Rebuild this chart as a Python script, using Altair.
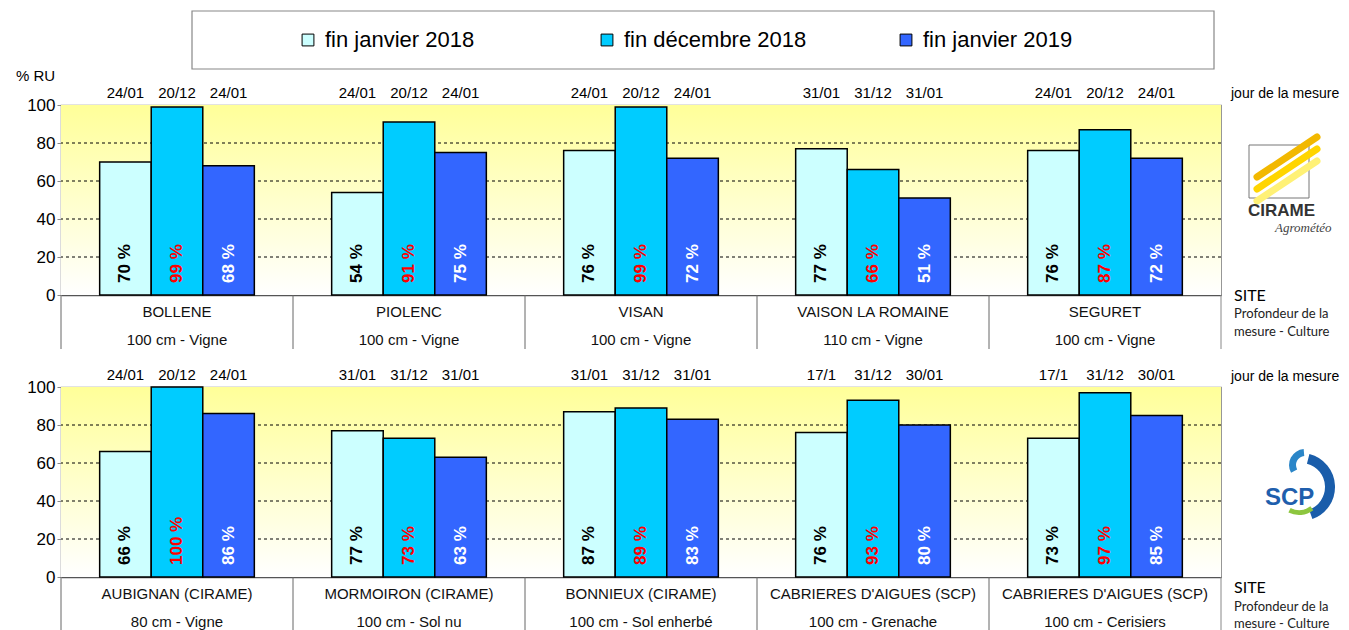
import altair as alt
import pandas as pd

# ---------------- data ----------------
series = ["fin janvier 2018", "fin décembre 2018", "fin janvier 2019"]
bar_colors = ["#CCFFFF", "#00CCFF", "#3366FF"]
label_colors = ["#000000", "#FF0000", "#FFFFFF"]

top_sites = ["BOLLENE", "PIOLENC", "VISAN", "VAISON LA ROMAINE", "SEGURET"]
top_depth = ["100 cm - Vigne", "100 cm - Vigne", "100 cm - Vigne", "110 cm - Vigne", "100 cm - Vigne"]
top_jan18 = [70, 54, 76, 77, 76]
top_dec18 = [99, 91, 99, 66, 87]
top_jan19 = [68, 75, 72, 51, 72]
top_date_jan18 = ["24/01", "24/01", "24/01", "31/01", "24/01"]
top_date_dec18 = ["20/12", "20/12", "20/12", "31/12", "20/12"]
top_date_jan19 = ["24/01", "24/01", "24/01", "31/01", "24/01"]

bot_sites = ["AUBIGNAN (CIRAME)", "MORMOIRON (CIRAME)", "BONNIEUX (CIRAME)",
             "CABRIERES D'AIGUES (SCP)", "CABRIERES D'AIGUES (SCP)"]
bot_depth = ["80 cm - Vigne", "100 cm - Sol nu", "100 cm - Sol enherbé",
             "100 cm - Grenache", "100 cm - Cerisiers"]
bot_jan18 = [66, 77, 87, 76, 73]
bot_dec18 = [100, 73, 89, 93, 97]
bot_jan19 = [86, 63, 83, 80, 85]
bot_date_jan18 = ["24/01", "31/01", "31/01", "17/1", "17/1"]
bot_date_dec18 = ["20/12", "31/12", "31/12", "31/12", "31/12"]
bot_date_jan19 = ["24/01", "31/01", "31/01", "30/01", "30/01"]

y_ticks = [0, 20, 40, 60, 80, 100]
grid_values = [20, 40, 60, 80]

W, H = 1160, 190
FONT = "Liberation Sans"
SIDE_FONT = "Lato"


def one():
    return pd.DataFrame({"k": [0]})


def txt(text, x, y, size=14, font=FONT, align="left", weight="normal", color="#000", style="normal"):
    return alt.Chart(one()).mark_text(
        text=text, align=align, baseline="middle", fontSize=size, font=font,
        fontWeight=weight, color=color, fontStyle=style
    ).encode(x=alt.value(x), y=alt.value(y))


def panel(prefix, sites, depth, vals, dates, is_top):
    rows = []
    for i, s in enumerate(sites):
        for k, ser in enumerate(series):
            rows.append(dict(sid=f"{prefix}{i}", site=s, depth=depth[i], series=ser,
                             value=vals[k][i], date=dates[k][i],
                             label=f"{vals[k][i]} %"))
    df = pd.DataFrame(rows)
    sdf = pd.DataFrame({"sid": [f"{prefix}{i}" for i in range(len(sites))],
                        "site": sites, "depth": depth})
    sid_domain = list(sdf["sid"])

    xscale = alt.Scale(domain=sid_domain, paddingInner=0, paddingOuter=0)
    xaxis = alt.Axis(labels=False, ticks=False, title=None, grid=False,
                     domainColor="#555", domainWidth=1.5)

    def X(**kw):
        return alt.X("sid:N", scale=xscale, axis=xaxis, **kw)

    xoff = alt.XOffset("series:N", scale=alt.Scale(domain=series, paddingInner=0, paddingOuter=0.75))
    yscale = alt.Scale(domain=[0, 100], nice=False)
    yaxis = alt.Axis(values=y_ticks, title=None, grid=False, domainColor="#888",
                     tickColor="#888", tickSize=4, labelPadding=2, labelFontSize=17,
                     labelFont=FONT, labelColor="#000")

    if is_top:
        legend = alt.Legend(orient="none", legendX=236, legendY=-76, direction="horizontal",
                            title=None, symbolType="square", symbolSize=140,
                            symbolStrokeColor="#000", symbolStrokeWidth=1,
                            labelFontSize=22, labelFont=FONT, labelColor="#000",
                            labelLimit=400, columnPadding=88, gridAlign="all",
                            labelOffset=6, padding=0)
    else:
        legend = None

    layers = []
    # invisible anchor fixing the top-left of the whole figure
    if is_top:
        layers.append(alt.Chart(one()).mark_rect(opacity=0).encode(
            x=alt.value(-52), x2=alt.value(-51), y=alt.value(-96), y2=alt.value(-95)))
        # legend box
        layers.append(alt.Chart(one()).mark_rect(fill="#FFFFFF", stroke="#888", strokeWidth=1.2).encode(
            x=alt.value(131), x2=alt.value(1153), y=alt.value(-94), y2=alt.value(-36)))

    # gradient background
    layers.append(alt.Chart(one()).mark_rect(
        fill=alt.Gradient(gradient="linear",
                          stops=[alt.GradientStop(color="#FFFF99", offset=0),
                                 alt.GradientStop(color="#FFFFFF", offset=1)],
                          x1=0, x2=0, y1=0, y2=1)
    ).encode(x=alt.value(0), x2=alt.value(W), y=alt.value(0), y2=alt.value(H)))

    # dashed grid
    layers.append(alt.Chart(pd.DataFrame({"value": grid_values})).mark_rule(
        color="#000", strokeDash=[3, 3], strokeWidth=1).encode(
        y=alt.Y("value:Q", scale=yscale, axis=yaxis)))

    base = alt.Chart(df)
    layers.append(base.mark_bar(stroke="#000", strokeWidth=1.5).encode(
        x=X(), xOffset=xoff,
        y=alt.Y("value:Q", scale=yscale, axis=yaxis),
        color=alt.Color("series:N", scale=alt.Scale(domain=series, range=bar_colors),
                        legend=legend, sort=series)))

    for ser, col in zip(series, label_colors):
        layers.append(base.transform_filter(alt.datum.series == ser).mark_text(
            angle=270, align="left", baseline="middle", fontWeight="bold",
            fontSize=17, font=FONT, color=col).encode(
            x=X(), xOffset=xoff, y=alt.value(H - 12), text="label:N"))

    # measurement dates above the plot
    layers.append(base.mark_text(baseline="middle", fontSize=15, font=FONT, color="#000").encode(
        x=X(), xOffset=xoff, y=alt.value(-12), text="date:N"))

    # table under the plot
    sbase = alt.Chart(sdf)
    layers.append(sbase.mark_rule(color="#666", strokeWidth=1).encode(
        x=X(bandPosition=0), y=alt.value(H), y2=alt.value(H + 54)))
    layers.append(alt.Chart(one()).mark_rule(color="#888", strokeWidth=1).encode(
        x=alt.value(W), y=alt.value(H), y2=alt.value(H + 54)))
    layers.append(sbase.mark_text(fontSize=15, font=FONT, color="#111", baseline="middle").encode(
        x=X(), y=alt.value(H + 17), text="site:N"))
    layers.append(sbase.mark_text(fontSize=15, font=FONT, color="#111", baseline="middle").encode(
        x=X(), y=alt.value(H + 45), text="depth:N"))

    # side annotations
    if is_top:
        layers.append(txt("% RU", -45, -29, size=15))
        layers.append(txt("jour de la mesure", 1170, -11, size=14))
        layers.append(txt("SITE", 1173, 191, size=16, font=SIDE_FONT))
        layers.append(txt("Profondeur de la", 1173, 209, size=13, font=SIDE_FONT, color="#222"))
        layers.append(txt("mesure - Culture", 1173, 227, size=13, font=SIDE_FONT, color="#222"))
        # CIRAME logo (approximation)
        layers.append(alt.Chart(one()).mark_rect(fill="#FFFFFF", stroke="#777", strokeWidth=1).encode(
            x=alt.value(1188), x2=alt.value(1248), y=alt.value(40), y2=alt.value(93)))
        for c, y0 in zip(["#F2B800", "#FFD500", "#FFF176"], [72, 84, 96]):
            layers.append(alt.Chart(one()).mark_rule(color=c, strokeWidth=7, strokeCap="round").encode(
                x=alt.value(1196), x2=alt.value(1256), y=alt.value(y0), y2=alt.value(y0 - 40)))
        layers.append(txt("CIRAME", 1187, 106, size=17, weight="bold", color="#333"))
        layers.append(txt("Agrométéo", 1214, 123, size=13, font="Liberation Serif", style="italic", color="#444"))
    else:
        layers.append(txt("jour de la mesure", 1170, -10, size=14))
        layers.append(txt("SITE", 1173, 201, size=16, font=SIDE_FONT))
        layers.append(txt("Profondeur de la", 1173, 220, size=13, font=SIDE_FONT, color="#222"))
        layers.append(txt("mesure - Culture", 1173, 237, size=13, font=SIDE_FONT, color="#222"))
        # SCP logo (approximation)
        layers.append(alt.Chart(one()).mark_arc(radius=34, radius2=24, theta=0.25, theta2=2.8,
                                                color="#1A5DAA").encode(
            x=alt.value(1240), y=alt.value(100)))
        layers.append(alt.Chart(one()).mark_arc(radius=16, radius2=9, theta=4.2, theta2=6.2,
                                                color="#2B86C8").encode(
            x=alt.value(1244), y=alt.value(78)))
        layers.append(alt.Chart(one()).mark_arc(radius=24, radius2=19, theta=2.5, theta2=3.6,
                                                color="#8DC63F").encode(
            x=alt.value(1238), y=alt.value(104)))
        layers.append(txt("SCP", 1204, 111, size=24, weight="bold", color="#1F5FAD"))

    return alt.layer(*layers).properties(width=W, height=H)


top = panel("t", top_sites, top_depth, [top_jan18, top_dec18, top_jan19],
            [top_date_jan18, top_date_dec18, top_date_jan19], True)
bot = panel("b", bot_sites, bot_depth, [bot_jan18, bot_dec18, bot_jan19],
            [bot_date_jan18, bot_date_dec18, bot_date_jan19], False)

chart = alt.vconcat(top, bot, spacing=92, bounds="flush").resolve_scale(
    color="independent", x="independent"
).properties(padding=0).configure_view(stroke="#8c8c8c", strokeWidth=1.2)

chart.save("out.html", embed_options={"renderer": "svg", "actions": False})
